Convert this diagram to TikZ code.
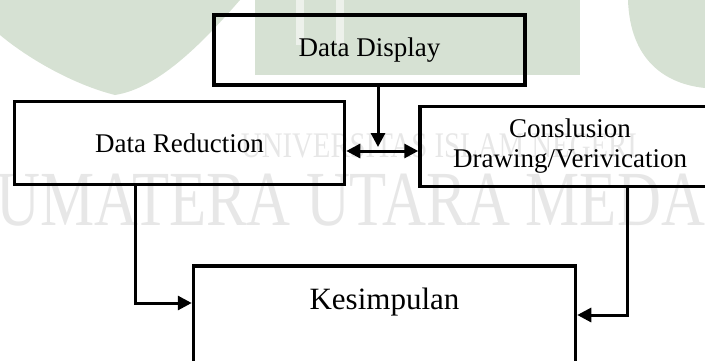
\documentclass[tikz,border=0pt]{standalone}
\usepackage{fontspec}
\setmainfont{Liberation Serif}
\usetikzlibrary{arrows.meta}
\definecolor{wmgreen}{RGB}{214,225,211}
\definecolor{wmgray}{RGB}{231,231,231}

\begin{document}
\begin{tikzpicture}[x=1pt,y=1pt,>={Triangle[length=14pt,width=14pt]},
  box/.style={shape=rectangle,draw,line width=3.5pt,inner sep=0pt},
  link/.style={line width=3pt},
  lbl/.style={font=\fontsize{27}{30}\selectfont,align=center}]
\useasboundingbox (0,0) rectangle (705,360);
\clip (0,0) rectangle (705,360);
% background marks
\fill [wmgreen] (255,360) rectangle (580,285);
\fill [white!55!wmgreen] (296,360) rectangle (304,315);
\fill [white!55!wmgreen] (336,360) rectangle (344,315);
\fill [wmgreen] (0,360) -- (240,360) .. controls (205,320) and (160,272) .. (115,265)
  .. controls (75,275) and (30,300) .. (0,325) -- cycle;
\fill [wmgreen] (628,360) -- (705,360) -- (705,272) .. controls (665,276) and (630,300) .. (628,360) -- cycle;
\node (uni) at (439,203) [anchor=base,text=wmgray,font=\fontsize{36}{36}\selectfont,xscale=0.8] {UNIVERSITAS ISLAM NEGERI};
\node (sumut) at (356,135) [anchor=base,text=wmgray,font=\fontsize{78}{78}\selectfont,xscale=0.78] {SUMATERA UTARA MEDAN};
% boxes
\node (disp) at (369.5,310) [box,minimum width=311pt,minimum height=70pt,lbl] {Data Display};
\node  (red) at (179.5,217) [box,minimum width=330pt,minimum height=83pt,lbl] {Data Reduction};
\node  (con) at (570,213.5) [box,minimum width=300pt,minimum height=80pt,lbl] {Conslusion\\Drawing/Verivication};
\node  (kes) at (384.5,37)  [box,minimum width=382pt,minimum height=114pt] {};
\node (keslbl) at (384.5,58) [font=\fontsize{31}{36}\selectfont] {Kesimpulan};
% arrows
\coordinate (tip) at (378,213);
\draw [->,link] (disp.south -| tip) -- (tip);
\draw [<->,link] ([yshift=-8pt]red.east) -- ([yshift=-4.5pt]con.west);
\draw [->,link] ([xshift=-44.5pt]red.south) |- ([yshift=20pt]kes.west);
\draw [->,link] ([xshift=57pt]con.south) |- ([yshift=8pt]kes.east);
\end{tikzpicture}
\end{document}
